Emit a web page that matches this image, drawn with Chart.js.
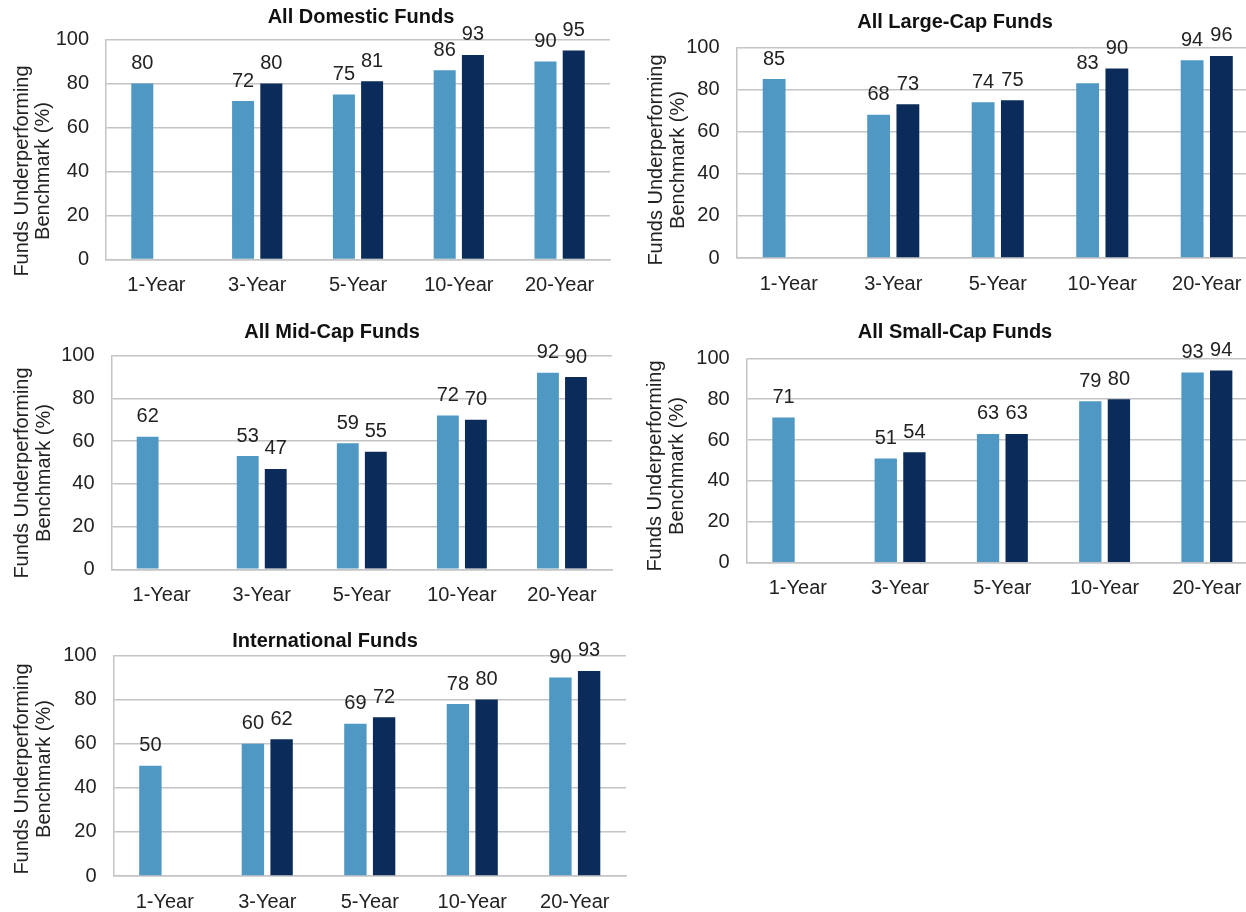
<!DOCTYPE html>
<html>
<head>
<meta charset="utf-8">
<script src="https://cdn.jsdelivr.net/npm/chart.js@4.4.1/dist/chart.umd.min.js"></script>
<style>
  html, body { margin: 0; padding: 0; background: #fff; overflow: hidden; width: 1246px; height: 912px; }
  .panel { position: absolute; }
</style>
</head>
<body>
<div class="panel" id="p1"><canvas id="c1"></canvas></div>
<div class="panel" id="p2"><canvas id="c2"></canvas></div>
<div class="panel" id="p3"><canvas id="c3"></canvas></div>
<div class="panel" id="p4"><canvas id="c4"></canvas></div>
<div class="panel" id="p5"><canvas id="c5"></canvas></div>
<script>
// カテゴリ（期間）
const periods = ['1-Year', '3-Year', '5-Year', '10-Year', '20-Year'];
const yTicks = [0, 20, 40, 60, 80, 100];

// 各パネルの値（% of funds underperforming）
const domesticA = [80, 72, 75, 86, 90];
const domesticB = [null, 80, 81, 93, 95];
const largeCapA = [85, 68, 74, 83, 94];
const largeCapB = [null, 73, 75, 90, 96];
const midCapA = [62, 53, 59, 72, 92];
const midCapB = [null, 47, 55, 70, 90];
const smallCapA = [71, 51, 63, 79, 93];
const smallCapB = [null, 54, 63, 80, 94];
const intlA = [50, 60, 69, 78, 90];
const intlB = [null, 62, 72, 80, 93];

const yTitleLines = ['Funds Underperforming', 'Benchmark (%)'];

const FONT = "'Liberation Sans', Arial, sans-serif";
const lightBlue = '#4f98c3';
const navy = '#0b2c5a';
const textColor = '#222222';
const gridColor = '#c4c4c4';

// キャンバス位置とプロット領域（ページ座標）
const panels = [
  { id: 'c1', div: 'p1', title: 'All Domestic Funds', a: domesticA, b: domesticB,
    box: [0, 0, 625, 310], plot: [106, 39.5, 610, 259.5], titleAt: [361, 17], yTitle: [22, 43, 171] },
  { id: 'c2', div: 'p2', title: 'All Large-Cap Funds', a: largeCapA, b: largeCapB,
    box: [630, 0, 640, 310], plot: [736.5, 47.5, 1259, 258], titleAt: [955, 22], yTitle: [656, 678, 160] },
  { id: 'c3', div: 'p3', title: 'All Mid-Cap Funds', a: midCapA, b: midCapB,
    box: [0, 310, 625, 310], plot: [111.6, 355.7, 612, 569.3], titleAt: [332, 332], yTitle: [22, 44, 473] },
  { id: 'c4', div: 'p4', title: 'All Small-Cap Funds', a: smallCapA, b: smallCapB,
    box: [630, 310, 640, 310], plot: [746.7, 358.3, 1258, 562.7], titleAt: [955, 332], yTitle: [655, 677, 466] },
  { id: 'c5', div: 'p5', title: 'International Funds', a: intlA, b: intlB,
    box: [0, 620, 640, 292], plot: [113.5, 655.5, 626, 876], titleAt: [325, 641], yTitle: [22, 44, 769] },
];

// 値ラベル
const valueLabels = {
  id: 'valueLabels',
  afterDatasetsDraw(chart) {
    const ctx = chart.ctx;
    ctx.save();
    ctx.font = '20px ' + FONT;
    ctx.fillStyle = textColor;
    ctx.textAlign = 'center';
    ctx.textBaseline = 'middle';
    chart.data.datasets.forEach((ds, i) => {
      chart.getDatasetMeta(i).data.forEach((bar, j) => {
        const v = ds.data[j];
        if (v == null) return;
        ctx.fillText(String(v), bar.x, bar.y - 20);
      });
    });
    ctx.restore();
  }
};

// タイトルと縦軸タイトル
const panelText = {
  id: 'panelText',
  afterDraw(chart, args, opts) {
    const ctx = chart.ctx;
    ctx.save();
    ctx.fillStyle = '#111';
    ctx.textAlign = 'center';
    ctx.textBaseline = 'middle';
    ctx.font = 'bold 20px ' + FONT;
    ctx.fillText(opts.text, opts.tx, opts.ty);
    ctx.fillStyle = textColor;
    ctx.font = '20px ' + FONT;
    opts.lines.forEach((line, k) => {
      ctx.save();
      ctx.translate(opts.lx[k], opts.ly);
      ctx.rotate(-Math.PI / 2);
      ctx.fillText(line, 0, 0);
      ctx.restore();
    });
    ctx.restore();
  }
};

const X_HEIGHT = 36;

panels.forEach(p => {
  const [bx, by, bw, bh] = p.box;
  const [L, T, R, B] = p.plot;
  const div = document.getElementById(p.div);
  div.style.left = bx + 'px';
  div.style.top = by + 'px';
  div.style.width = bw + 'px';
  div.style.height = bh + 'px';
  const cv = document.getElementById(p.id);
  cv.width = bw;
  cv.height = bh;

  new Chart(cv, {
    type: 'bar',
    data: {
      labels: periods,
      datasets: [
        { data: p.a, backgroundColor: lightBlue },
        { data: p.b, backgroundColor: navy },
      ]
    },
    plugins: [valueLabels, panelText],
    options: {
      responsive: false,
      animation: false,
      events: [],
      categoryPercentage: 0.56,
      barPercentage: 0.78,
      layout: {
        padding: { left: 0, top: T - by, right: bx + bw - R, bottom: Math.max(0, bh - (B - by) - X_HEIGHT) }
      },
      plugins: {
        legend: { display: false },
        tooltip: { enabled: false },
        title: { display: false },
        panelText: {
          text: p.title, tx: p.titleAt[0] - bx, ty: p.titleAt[1] - by,
          lines: yTitleLines, lx: [p.yTitle[0] - bx, p.yTitle[1] - bx], ly: p.yTitle[2] - by
        }
      },
      scales: {
        x: {
          grid: { drawOnChartArea: false, drawTicks: false },
          border: { display: true, color: gridColor, width: 1.5 },
          ticks: { padding: 14, color: textColor, font: { family: FONT, size: 20 } },
          afterFit: s => { s.height = X_HEIGHT; }
        },
        y: {
          min: 0,
          max: 100,
          afterBuildTicks: s => { s.ticks = yTicks.map(v => ({ value: v })); },
          ticks: { padding: 17, color: textColor, font: { family: FONT, size: 20 } },
          grid: { color: gridColor, lineWidth: 1.5, drawTicks: false },
          border: { color: gridColor, width: 1.5 },
          afterFit: s => { s.width = L - bx; }
        }
      }
    }
  });
});
</script>
</body>
</html>
